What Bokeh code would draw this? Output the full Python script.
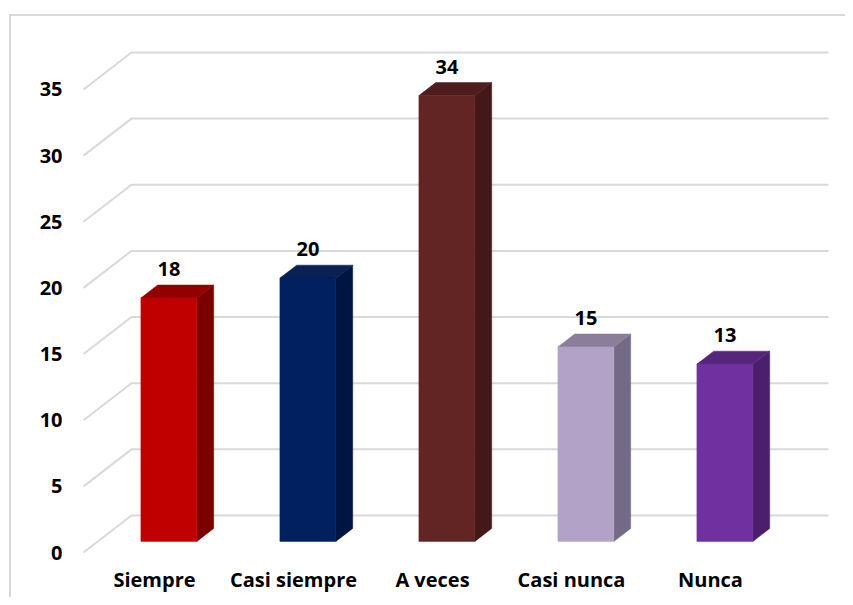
from bokeh.plotting import figure
from bokeh.models import Range1d, FixedTicker, BoxAnnotation, ColumnDataSource
from bokeh.embed import file_html
from bokeh.resources import INLINE
from bokeh.core.properties import value

# ---- data ----
categories = ["Siempre", "Casi siempre", "A veces", "Casi nunca", "Nunca"]
values = [18.4, 19.9, 33.7, 14.7, 13.4]
value_labels = ["18", "20", "34", "15", "13"]
y_ticks = [0, 5, 10, 15, 20, 25, 30, 35]
front_colors = ["#C00000", "#002060", "#632523", "#B3A2C7", "#7030A0"]
top_colors = ["#940000", "#0a1f52", "#4e1d1c", "#8b7e9b", "#57267c"]
side_colors = ["#7a0000", "#001541", "#431816", "#756a86", "#4c1f6c"]

# ---- layout / projection constants (canvas pixels) ----
W, H = 845, 597
PX_CAT = 139.0        # pixels per category
PX_UNIT = 13.23       # pixels per value unit
ORIGIN_X = 154.0      # x of category 0 on the front plane
ORIGIN_Y = 552.0      # y of value 0 on the front plane
FRAME_L, FRAME_R, FRAME_T, FRAME_B = 72, 845, 20, 565

DEPTH_X = 48.0 / PX_CAT      # full depth offset in x units
DEPTH_Y = 37.0 / PX_UNIT     # full depth offset in y units
BAR_D0, BAR_D1 = 0.30, 0.65  # bar depth span (fraction of full depth)
BAR_W = 56.0 / PX_CAT
LABEL_GAP = 16.0 / PX_UNIT
GRID_X0 = (83.0 - ORIGIN_X) / PX_CAT
GRID_X1 = (828.0 - ORIGIN_X) / PX_CAT

x_range = Range1d((FRAME_L - ORIGIN_X) / PX_CAT, (FRAME_R - ORIGIN_X) / PX_CAT)
y_range = Range1d((ORIGIN_Y - FRAME_B) / PX_UNIT, (ORIGIN_Y - FRAME_T) / PX_UNIT)

p = figure(width=W, height=H, x_range=x_range, y_range=y_range,
           output_backend="svg", toolbar_location=None, title=None,
           min_border_left=FRAME_L, min_border_right=W - FRAME_R,
           min_border_top=FRAME_T, min_border_bottom=H - FRAME_B)
p.outline_line_color = None
p.xgrid.visible = False
p.ygrid.visible = False
p.background_fill_color = None
p.border_fill_color = None
# outer chart border (light grey frame around the whole chart)
p.styles = {
    "background": ("linear-gradient(#d9d9d9, #d9d9d9) 9px 14px / 100% 2px no-repeat, "
                   "linear-gradient(#d9d9d9, #d9d9d9) 9px 14px / 2px 100% no-repeat, "
                   "white"),
}

p.add_layout(BoxAnnotation(left=1, right=W + 30, top=6, bottom=H + 30,
                           left_units="canvas", right_units="canvas",
                           top_units="canvas", bottom_units="canvas",
                           fill_color=None, fill_alpha=0, level="overlay",
                           line_color="#d9d9d9", line_width=1.5))

# 3D-ish gridlines
gx, gy = [], []
for t in y_ticks:
    gx.append([GRID_X0, GRID_X0 + DEPTH_X, GRID_X1])
    gy.append([t, t + DEPTH_Y, t + DEPTH_Y])
p.multi_line(gx, gy, line_color="#d9d9d9", line_width=2)

# bars
fl, fr, fb, ft = [], [], [], []
sx, sy, tx, ty = [], [], [], []
lx, ly = [], []
sdx = (BAR_D1 - BAR_D0) * DEPTH_X
sdy = (BAR_D1 - BAR_D0) * DEPTH_Y
for i, v in enumerate(values):
    cx = i + BAR_D0 * DEPTH_X
    xl, xr = cx - BAR_W / 2, cx + BAR_W / 2
    yb = BAR_D0 * DEPTH_Y
    yt = v + BAR_D0 * DEPTH_Y
    fl.append(xl); fr.append(xr); fb.append(yb); ft.append(yt)
    sx.append([xr, xr + sdx, xr + sdx, xr])
    sy.append([yb, yb + sdy, yt + sdy, yt])
    tx.append([xl, xl + sdx, xr + sdx, xr])
    ty.append([yt, yt + sdy, yt + sdy, yt])
    lx.append(cx)
    ly.append(yt + sdy + LABEL_GAP)

p.patches(sx, sy, fill_color=side_colors, line_color=side_colors, line_width=0.5)
p.patches(tx, ty, fill_color=top_colors, line_color=top_colors, line_width=0.5)
p.quad(left=fl, right=fr, bottom=fb, top=ft, fill_color=front_colors,
       line_color=front_colors, line_width=0.5)

src = ColumnDataSource(dict(x=lx, y=ly, t=value_labels))
p.text(x="x", y="y", text="t", source=src, text_align="center",
       text_baseline="alphabetic",
       text_font=value("Open Sans"), text_font_style="bold",
       text_font_size="20px", text_color="black")

# axes
p.yaxis.ticker = FixedTicker(ticks=y_ticks)
p.yaxis.axis_line_color = None
p.yaxis.major_tick_line_color = None
p.yaxis.minor_tick_line_color = None
p.yaxis.major_tick_out = 0
p.yaxis.major_tick_in = 0
p.yaxis.minor_tick_out = 0
p.yaxis.major_label_standoff = 10
p.yaxis.major_label_text_font = "Open Sans"
p.yaxis.major_label_text_font_style = "bold"
p.yaxis.major_label_text_font_size = "20px"
p.yaxis.major_label_text_color = "black"

p.xaxis.ticker = FixedTicker(ticks=list(range(len(categories))))
p.xaxis.major_label_overrides = {i: c for i, c in enumerate(categories)}
p.xaxis.axis_line_color = None
p.xaxis.major_tick_line_color = None
p.xaxis.minor_tick_line_color = None
p.xaxis.major_tick_out = 0
p.xaxis.major_tick_in = 0
p.xaxis.minor_tick_out = 0
p.xaxis.major_label_standoff = 0
p.xaxis.major_label_text_font = "Open Sans"
p.xaxis.major_label_text_font_style = "bold"
p.xaxis.major_label_text_font_size = "20px"
p.xaxis.major_label_text_color = "black"

open("out.html", "w").write(file_html(p, INLINE))
